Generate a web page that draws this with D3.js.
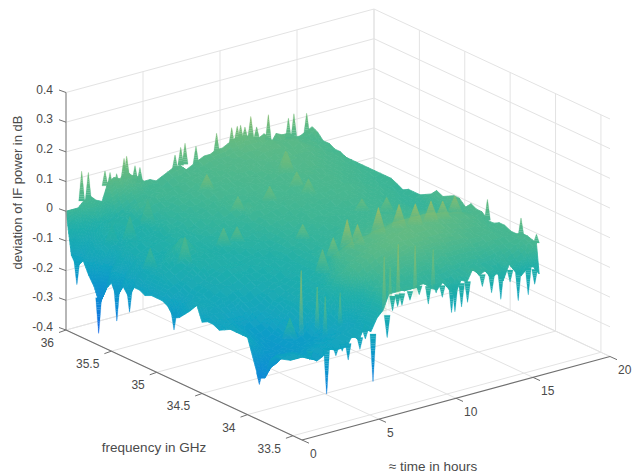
<!DOCTYPE html>
<html>
<head>
<meta charset="utf-8">
<script src="https://d3js.org/d3.v7.min.js"></script>
<style>
  body { margin: 0; background: #fff; }
  text { font-family: "Liberation Sans", Arial, sans-serif; fill: #4a4a4a; }
</style>
</head>
<body>
<div id="chart"></div>
<script>
// tick values and labels
var freqTicks = [36, 35.5, 35, 34.5, 34, 33.5];
var freqLabels = ["36", "35.5", "35", "34.5", "34", "33.5"];
var timeTicks = [0, 5, 10, 15, 20];
var timeLabels = ["0", "5", "10", "15", "20"];
var devTicks = [-0.4, -0.3, -0.2, -0.1, 0, 0.1, 0.2, 0.3, 0.4];
var devLabels = ["-0.4", "-0.3", "-0.2", "-0.1", "0", "0.1", "0.2", "0.3", "0.4"];

// measured grid, one column per frequency, one row per time
var freqGHz = [36,35.94,35.88,35.81,35.75,35.69,35.63,35.56,35.5,35.44,35.38,35.31,35.25,35.19,35.13,35.06,35,34.94,34.88,34.81,34.75,34.69,34.63,34.56,34.5,34.44,34.38,34.31,34.25,34.19,34.13,34.06,34,33.94,33.88,33.81,33.75,33.69,33.63,33.53,33.5];
var timeHours = [0,0.39,0.78,1.17,1.56,1.95,2.34,2.73,3.12,3.51,3.9,4.29,4.68,5.07,5.46,5.85,6.24,6.63,7.02,7.41,7.8,8.19,8.58,8.97,9.36,9.75,10.14,10.53,10.92,11.31,11.7,12.09,12.48,12.87,13.26,13.65,14.04,14.43,14.82,15.21,15.6,15.99];

// deviation in hundredths of a dB
var devRows = [
[0,-14,-17,-14,-18,-21,-26,-20,-17,-21,-16,-19,-15,-15,-16,-15,-15,-15,-16,-19,-18,-16,-14,-11,-16,-15,-15,-16,-15,-14,-14,-14,-14,-20,-26,-25,-18,-16,-16,-15,-13],
[0,-8,-14,-11,-13,-15,-22,-14,-13,-18,-12,-15,-11,-12,-12,-12,-12,-12,-13,-16,-14,-12,-12,-11,-13,-13,-14,-14,-14,-14,-15,-15,-16,-18,-22,-22,-17,-16,-15,-15,-14],
[0,-5,-11,-9,-10,-11,-15,-11,-11,-13,-10,-12,-10,-10,-9,-9,-10,-11,-12,-13,-13,-12,-11,-12,-12,-13,-14,-15,-15,-16,-16,-17,-18,-20,-22,-21,-18,-16,-15,-15,-14],
[2,-2,-8,-6,-8,-9,-10,-9,-8,-9,-8,-9,-8,-8,-7,-8,-9,-10,-10,-11,-11,-11,-12,-12,-13,-14,-15,-16,-16,-17,-17,-18,-19,-20,-20,-19,-18,-17,-16,-16,-15],
[3,-3,-6,-5,-6,-8,-8,-6,-7,-8,-7,-6,-8,-7,-5,-7,-8,-9,-9,-10,-10,-10,-11,-11,-13,-14,-15,-17,-17,-18,-18,-19,-20,-20,-19,-19,-18,-17,-17,-17,-17],
[1,-1,-5,-3,-6,-5,-7,-7,-6,-7,-6,-7,-7,-5,-3,-6,-7,-7,-8,-9,-9,-9,-10,-11,-12,-14,-15,-16,-17,-18,-19,-19,-19,-19,-19,-18,-18,-17,-16,-16,-16],
[0,-3,-5,-4,-5,-6,-6,-6,-6,-6,-5,-6,-5,-3,0,-4,-5,-5,-6,-8,-8,-9,-9,-10,-11,-12,-13,-15,-16,-17,-18,-18,-18,-18,-18,-18,-17,-16,-15,-15,-14],
[6,-1,-4,-3,-4,-5,-5,-6,-5,-5,-5,-5,-4,-3,-1,-3,-5,-5,-6,-7,-7,-8,-9,-10,-11,-12,-13,-14,-15,-15,-16,-17,-17,-18,-18,-17,-17,-16,-15,-15,-15],
[7,0,-3,-2,-3,-4,-3,-5,-4,-5,-4,-4,-5,-4,-4,-5,-4,-5,-5,-6,-6,-7,-8,-9,-10,-11,-12,-13,-13,-14,-14,-15,-16,-17,-18,-17,-16,-15,-15,-15,-15],
[6,1,-2,0,-2,-3,-3,-3,-2,-3,-3,-3,-4,-4,-5,-4,-5,-5,-5,-6,-6,-7,-7,-8,-9,-10,-10,-11,-11,-12,-12,-13,-14,-16,-17,-16,-16,-15,-14,-14,-15],
[8,2,-1,1,-1,-2,-3,-2,-3,-3,-3,-4,-3,-4,-4,-5,-5,-5,-6,-6,-6,-7,-7,-8,-8,-9,-9,-10,-10,-10,-10,-11,-12,-14,-15,-15,-15,-14,-13,-13,-11],
[6,2,0,1,0,-1,-1,-2,-2,-2,-3,-2,-3,-3,-4,-3,-4,-5,-5,-6,-6,-6,-7,-7,-8,-8,-8,-9,-9,-9,-9,-9,-10,-12,-13,-14,-14,-14,-13,-13,-14],
[5,1,0,1,0,-1,-1,-1,-2,-1,-2,-3,-2,-3,-3,-3,-4,-4,-5,-5,-5,-6,-6,-7,-7,-8,-8,-8,-8,-8,-8,-8,-8,-9,-11,-12,-13,-13,-12,-12,-9],
[3,1,1,2,0,0,0,-1,-1,-1,-1,-2,-2,-2,-3,-3,-3,-4,-4,-5,-5,-5,-6,-6,-6,-7,-7,-7,-7,-7,-7,-6,-6,-7,-9,-11,-14,-13,-12,-12,-12],
[3,1,2,1,1,1,0,0,-1,-1,-1,-1,-2,-2,-2,-3,-3,-3,-4,-4,-5,-5,-5,-6,-6,-6,-6,-7,-6,-6,-6,-5,-4,-4,-6,-7,-11,-10,-9,-9,-8],
[2,1,1,2,1,1,1,0,0,0,-1,-1,-1,-2,-2,-2,-3,-3,-3,-4,-4,-5,-5,-5,-5,-6,-6,-6,-5,-5,-4,-2,-1,0,0,-3,-7,-7,-6,-6,-6],
[3,2,1,2,1,2,1,1,0,0,0,-1,-1,-1,-2,-2,-2,-3,-3,-4,-4,-4,-4,-5,-5,-5,-5,-5,-4,-3,-2,0,0,2,2,0,-3,-3,-2,-2,-1],
[4,3,2,3,2,2,2,1,1,0,1,0,-1,-1,-1,-2,-2,-2,-3,-3,-3,-3,-3,-4,-4,-4,-4,-4,-3,-1,1,2,2,3,3,1,-1,-1,0,0,-1],
[5,3,3,3,3,2,3,2,1,2,1,1,0,0,-1,-1,-1,-2,-2,-2,-2,-3,-3,-3,-3,-3,-3,-3,0,2,3,3,3,4,4,2,1,0,-1,-1,-1],
[5,4,3,4,3,3,2,3,2,1,2,1,3,1,0,0,-1,-1,-1,-2,-2,-2,-2,-3,-3,-2,-2,-2,1,3,4,4,4,5,5,3,2,0,-1,-2,0],
[3,3,4,3,3,3,3,2,2,2,1,2,1,1,0,0,0,-1,-1,-1,-3,-2,-2,-2,-2,-2,-2,-1,2,4,5,5,5,6,6,4,2,0,-1,-2,-1],
[4,4,3,4,4,3,3,3,2,2,2,1,2,1,1,0,0,0,-1,-1,-1,-1,-2,-2,-1,-1,-1,0,2,4,5,5,6,6,6,5,2,0,-1,-2,0],
[5,4,4,4,3,4,3,2,3,2,2,2,1,1,1,0,1,0,0,-1,-1,-1,-1,-1,-1,0,0,1,3,5,6,6,6,7,7,5,3,1,-1,-1,-1],
[6,5,4,4,4,3,3,3,3,2,2,2,2,1,2,1,0,0,0,0,-1,-1,-1,-1,0,0,1,2,3,5,7,6,7,7,7,5,3,0,-1,-2,-3],
[6,5,5,4,4,4,4,3,3,3,3,2,2,2,1,1,1,1,0,0,0,-1,-1,0,0,1,1,2,4,6,7,7,8,8,7,6,3,1,-1,-3,-4],
[7,5,4,5,4,4,3,4,3,3,2,3,2,2,2,1,1,1,1,0,0,0,0,0,1,1,2,3,4,6,7,7,7,8,7,6,3,1,-1,-2,-2],
[7,5,5,4,5,4,4,3,3,3,3,2,2,2,2,2,1,1,0,1,0,0,0,0,1,1,2,3,5,6,7,7,8,8,7,5,3,0,-2,-3,-5],
[8,6,5,5,4,5,4,4,3,3,3,3,2,2,2,1,2,1,1,1,0,1,0,1,1,2,2,3,5,7,8,7,8,7,7,5,2,0,-2,-4,-7],
[9,6,6,5,5,4,4,4,4,3,3,3,2,3,2,2,1,1,1,0,1,0,1,1,1,2,3,4,5,7,8,7,8,7,6,5,3,1,-1,-2,-3],
[9,7,6,5,5,5,4,4,4,3,4,3,3,2,3,2,2,1,1,1,1,1,1,1,2,2,3,4,5,7,8,8,8,7,6,5,2,0,-2,-3,-4],
[9,7,6,6,5,5,5,4,4,4,3,3,3,3,2,2,2,2,1,1,1,1,1,1,2,2,3,4,5,7,8,7,7,7,6,4,2,0,-1,-1,0],
[8,7,7,6,6,5,5,5,4,4,4,3,3,3,3,2,2,2,1,1,1,1,1,2,2,2,3,4,5,7,8,7,7,6,6,4,2,0,-2,-2,-3],
[7,6,6,6,5,6,5,4,4,4,4,3,3,3,2,3,2,2,2,1,1,1,1,2,2,2,3,4,5,7,8,7,7,6,5,4,2,0,-1,-2,-2],
[8,7,7,6,6,5,5,5,4,4,3,4,3,3,3,2,2,2,1,1,1,1,1,1,2,2,3,4,5,7,8,7,6,5,5,4,2,0,-2,-3,-5],
[4,5,6,5,6,5,4,5,4,4,3,3,3,2,3,2,2,1,1,1,1,0,1,1,1,2,2,3,5,6,7,6,6,5,4,3,1,-1,-2,-3,-4],
[7,6,6,5,5,5,5,4,4,3,3,3,2,2,2,2,1,1,1,0,0,0,1,1,1,1,2,3,4,6,7,6,5,4,4,3,1,0,-2,-4,-7],
[6,6,6,6,5,5,4,4,3,3,3,2,2,2,2,1,1,1,0,0,0,0,0,1,1,2,2,3,4,5,6,5,5,4,3,3,2,0,-1,-1,-2],
[6,6,5,5,5,4,4,3,3,3,2,2,2,1,1,1,1,0,0,0,0,0,0,0,1,1,2,3,4,5,6,5,4,4,3,3,2,1,-1,-3,-5],
[4,4,4,4,4,4,3,3,3,2,2,2,1,1,1,1,0,0,0,-1,-1,-1,-1,0,0,1,1,2,3,4,5,4,4,3,3,3,2,1,0,-3,-7],
[4,4,4,4,3,3,3,3,2,2,2,1,1,1,0,0,0,0,-1,-1,-1,-1,-1,0,0,0,1,2,3,4,4,4,3,3,2,2,2,1,1,-2,-5],
[5,3,3,3,3,2,3,2,2,1,1,1,0,0,0,0,-1,-1,-1,-1,-1,-1,0,0,0,1,1,2,2,3,3,3,2,2,2,2,2,2,2,0,-5],
[6,5,3,3,2,2,1,1,1,1,1,1,1,1,1,0,-1,0,0,0,1,2,4,3,4,5,5,3,5,4,4,2,2,3,3,2,2,3,3,2,-8]
];

// low rounded peaks standing on the surface
var peakFreq = [35.67,35.35,35.33,35.39,35.28,35.7,35.93,35.97,35.84,35.18,35.07,34.99,34.67,35.33,33.81,35.73,34.26,34.26,34.16,34.18,34.17,34.18,34.12,34.1,34.14,34.21,34.69,34.81];
var peakTime = [7.2,7.33,9.28,11.39,11.5,12.5,4.9,2.8,3.2,2.89,4.75,5.15,7.53,1.52,1.63,12.75,6.4,7.1,7.41,8.2,9.5,10.9,11.6,12.5,13.5,14.7,13.1,12.2];
var peakTip = [7,4,5,6,5,7,-2,-8,-4,-1,1,2,4,-5,-7,6,3,6,13,10,14,13,13,13,11,10,5,4];
var peakFoot = [2,-1,0,1,0,1,-10,-15,-12,-10,-5,-3,-1,-12,-14,-1,-5,-1,3,3,5,5,6,6,5,4,0,0];

// narrow spikes that stand inside the surface, near its front edge
var innerFreq = [33.63,33.63,33.63,33.63,33.63,33.63,33.63,33.63,33.63];
var innerTime = [1.3,2.34,2.86,3.83,6.69,7.08,7.6,8.7,9.87];
var innerTip = [12,5,1,1,9,5,12,10,7];
var innerFoot = [-10,-9.5,-12,-10,-11,-9,-8,-8,-7];

// narrow spikes on the edges of the surface that fall between the grid points
var spikeFreq = [36,36,36,36,36,36,36,36,36,36,36,36,36,36,36,36,36,36,36,36,36,36,36,36,34.07,33.7,33.53,35.88,35.64,35.44,35.3,34.81,33.87,33.5,33.5,33.5,33.5,33.5,33.5,33.5,33.5,33.5,33.5,33.5,33.5,33.5,33.5,33.5,33.5,33.5,33.5,33.5,33.5,33.5,33.5,33.5,33.5,33.5,33.5,33.5,33.5];
var spikeTime = [1.02,1.45,2.53,2.86,3.29,3.77,3.94,4.48,4.8,7.08,7.45,7.73,8.44,9.78,10.76,11.12,11.34,11.62,12,12.38,13.14,14.44,14.8,15.63,15.99,15.99,15.99,0,0,0,0,0,0,2.19,2.79,3.59,4.35,5.2,6.12,6.47,7.08,7.6,8.79,10.3,10.52,10.95,11.34,12.9,13.5,14.63,15.28,1.1,3.2,4.7,6.8,8.2,9.3,9.7,12.3,14.1,15.7];
var spikeTip = [12,11,10,9,8,12.5,13,9,8,9,11,12,10,12.5,13,13,13,12,15,11,14,11,12,11,9,8,5,-23,-36,-29,-24,-23,-28,-29,-17,-19.5,-17,-29,-15.5,-7,-6,-5,-8,-13,-13,-12,-11,-10,-13,-15,-14,-16,-16,-14,-6,-4,-5,-7,-7,-8,-11];
var spikeFoot = [2,2,5,4,4,6,6,4,3,4,5,5,4,6,7,8,8,8,8,7,5.5,4,4,4,2,2,2,-15,-24,-18,-16,-17,-24,-14,-14,-14,-13,-13,-8,-2,-2,-2,-2,-4,-4,-4,-4,-4,-4,-5,-5,-13,-13,-11,-2,-1,-2,-3,-3,-4,-6];

// colour stops, value to colour
var colourValues = [-0.4, -0.36, -0.25, -0.15, -0.05, 0, 0.1, 0.2, 0.4];
var colourStops = ["#1a5ce6", "#1467e6", "#0f8cd6", "#12a4c0", "#22afa8", "#3cb596", "#6dbc7e", "#a5bd62", "#f5f020"];

var width = 635;
var height = 473;

var svg = d3.select("#chart")
    .append("svg")
    .attr("width", width)
    .attr("height", height);

// blur the surface a little, the original is a scaled screenshot
svg.append("filter")
    .attr("id", "soft")
    .attr("x", "-5%").attr("y", "-5%")
    .attr("width", "110%").attr("height", "110%")
    .append("feGaussianBlur")
    .attr("stdDeviation", 0.5);

// box projection: each scale gives the pixel shift along one edge of the box
var xFromFreq = d3.scaleLinear().domain([36, 33.4]).range([0, 236]);
var yFromFreq = d3.scaleLinear().domain([36, 33.4]).range([0, 110]);
var xFromTime = d3.scaleLinear().domain([0, 20]).range([0, 308]);
var yFromTime = d3.scaleLinear().domain([0, 20]).range([0, -83.5]);
var yFromDev = d3.scaleLinear().domain([-0.4, 0.4]).range([330, 92.5]);
var colour = d3.scaleLinear().domain(colourValues).range(colourStops);

function project(f, t, z) {
  return [66 + xFromFreq(f) + xFromTime(t), yFromDev(z) + yFromFreq(f) + yFromTime(t)];
}

var line = d3.line();

function seg(g, a, b, color, w) {
  g.append("path")
    .attr("d", line([a, b]))
    .attr("fill", "none")
    .attr("stroke", color)
    .attr("stroke-width", w);
}

// grid lines on the floor and the two back walls
var grid = svg.append("g").attr("class", "grid");
var gridColour = "#e3e3e3";
freqTicks.forEach(function(f) {
  seg(grid, project(f, 0, -0.4), project(f, 20, -0.4), gridColour, 1);
  seg(grid, project(f, 20, -0.4), project(f, 20, 0.4), gridColour, 1);
});
timeTicks.forEach(function(t) {
  seg(grid, project(36, t, -0.4), project(33.4, t, -0.4), gridColour, 1);
  if (t > 0) seg(grid, project(36, t, -0.4), project(36, t, 0.4), gridColour, 1);
});
devTicks.forEach(function(z) {
  seg(grid, project(36, 0, z), project(36, 20, z), gridColour, 1);
  seg(grid, project(36, 20, z), project(33.4, 20, z), gridColour, 1);
});

// split each grid cell in small pieces so the colour runs smooth on steep parts
var cells = [];
var step = 0.012;
for (var i = timeHours.length - 2; i >= 0; i--) {
  for (var j = 0; j < freqGHz.length - 1; j++) {
    var z00 = devRows[i + 1][j] / 100, z01 = devRows[i + 1][j + 1] / 100;
    var z10 = devRows[i][j] / 100, z11 = devRows[i][j + 1] / 100;
    var nf = Math.min(14, Math.max(1, Math.ceil(Math.max(Math.abs(z01 - z00), Math.abs(z11 - z10)) / step)));
    var nt = Math.min(14, Math.max(1, Math.ceil(Math.max(Math.abs(z10 - z00), Math.abs(z11 - z01)) / step)));
    var fAt = d3.scaleLinear().domain([0, nf]).range([freqGHz[j], freqGHz[j + 1]]);
    var tAt = d3.scaleLinear().domain([0, nt]).range([timeHours[i + 1], timeHours[i]]);
    var corner = function(a, b) {
      var p = a / nf, q = b / nt;
      var z = (z00 * (1 - p) + z01 * p) * (1 - q) + (z10 * (1 - p) + z11 * p) * q;
      return { p: project(fAt(a), tAt(b), z), z: z };
    };
    for (var b = 0; b < nt; b++) {
      for (var a = 0; a < nf; a++) {
        var c = [corner(a, b), corner(a + 1, b), corner(a + 1, b + 1), corner(a, b + 1)];
        cells.push({ pts: c.map(function(d) { return d.p; }), z: d3.mean(c, function(d) { return d.z; }), sw: 0.8, op: 1 });
      }
    }
  }
}

// peaks and spikes go on top as tapered slivers; fade ones melt into the surface at the foot
function addSliver(f, t, foot, tip, halfFoot, fade) {
  var n = Math.ceil(Math.abs(tip - foot) / 0.008);
  var zAt = d3.scaleLinear().domain([0, n]).range([foot, tip]);
  var halfAt = d3.scaleLinear().domain([0, n]).range([halfFoot, 0.2]);
  for (var s = 0; s < n; s++) {
    var p0 = project(f, t, zAt(s)), p1 = project(f, t, zAt(s + 1));
    cells.push({
      pts: [[p0[0] - halfAt(s), p0[1]], [p0[0] + halfAt(s), p0[1]], [p1[0] + halfAt(s + 1), p1[1]], [p1[0] - halfAt(s + 1), p1[1]]],
      z: fade ? tip + 0.04 : zAt(s + 0.5),
      sw: 0.2,
      op: fade ? (s + 1) / n : 1
    });
  }
}
peakFreq.forEach(function(f, k) {
  addSliver(f, peakTime[k], peakFoot[k] / 100, peakTip[k] / 100, 8, true);
});
innerFreq.forEach(function(f, k) {
  addSliver(f, innerTime[k], innerFoot[k] / 100, innerTip[k] / 100, 2.5, true);
});
spikeFreq.forEach(function(f, k) {
  addSliver(f, spikeTime[k], spikeFoot[k] / 100, spikeTip[k] / 100, 3, false);
});

svg.append("g")
    .attr("class", "surface")
    .attr("filter", "url(#soft)")
    .selectAll("path")
    .data(cells)
    .join("path")
    .attr("d", function(d) { return line(d.pts) + "Z"; })
    .attr("fill", function(d) { return colour(d.z); })
    .attr("stroke", function(d) { return colour(d.z); })
    .attr("stroke-width", function(d) { return d.sw; })
    .attr("opacity", function(d) { return d.op; });

// axes
var axes = svg.append("g").attr("class", "axes");
var zAxisColour = "#999999";
var axisColour = "#707070";
seg(axes, project(36, 0, -0.4), project(36, 0, 0.4), zAxisColour, 1.4);
seg(axes, project(36, 0, -0.4), project(33.4, 0, -0.4), axisColour, 1.1);
seg(axes, project(33.4, 0, -0.4), project(33.4, 20, -0.4), axisColour, 1.1);

devTicks.forEach(function(z, k) {
  var p = project(36, 0, z);
  seg(axes, p, [p[0] - 7, p[1] - 2.5], axisColour, 1);
  axes.append("text")
    .attr("x", p[0] - 13)
    .attr("y", p[1] - 3)
    .attr("text-anchor", "end")
    .attr("dominant-baseline", "central")
    .attr("font-size", 12)
    .text(devLabels[k]);
});

freqTicks.forEach(function(f, k) {
  var p = project(f, 0, -0.4);
  seg(axes, p, [p[0] - 7, p[1] + 2.5], axisColour, 1);
  axes.append("text")
    .attr("x", p[0] - 12)
    .attr("y", p[1] + 13)
    .attr("text-anchor", "end")
    .attr("dominant-baseline", "central")
    .attr("font-size", 12)
    .text(freqLabels[k]);
});

timeTicks.forEach(function(t, k) {
  var p = project(33.4, t, -0.4);
  seg(axes, p, [p[0] + 7, p[1] + 3.2], axisColour, 1);
  axes.append("text")
    .attr("x", p[0] + 8)
    .attr("y", p[1] + 13.5)
    .attr("dominant-baseline", "central")
    .attr("font-size", 12)
    .text(timeLabels[k]);
});

// axis titles
svg.append("text")
    .attr("transform", "translate(17, 192.5) rotate(-90)")
    .attr("text-anchor", "middle")
    .attr("dominant-baseline", "central")
    .attr("font-size", 13)
    .text("deviation of IF power in dB");

svg.append("text")
    .attr("x", 154)
    .attr("y", 447)
    .attr("text-anchor", "middle")
    .attr("dominant-baseline", "central")
    .attr("font-size", 13.5)
    .text("frequency in GHz");

svg.append("text")
    .attr("x", 433)
    .attr("y", 466)
    .attr("text-anchor", "middle")
    .attr("dominant-baseline", "central")
    .attr("font-size", 13.5)
    .text("≈ time in hours");
</script>
</body>
</html>
